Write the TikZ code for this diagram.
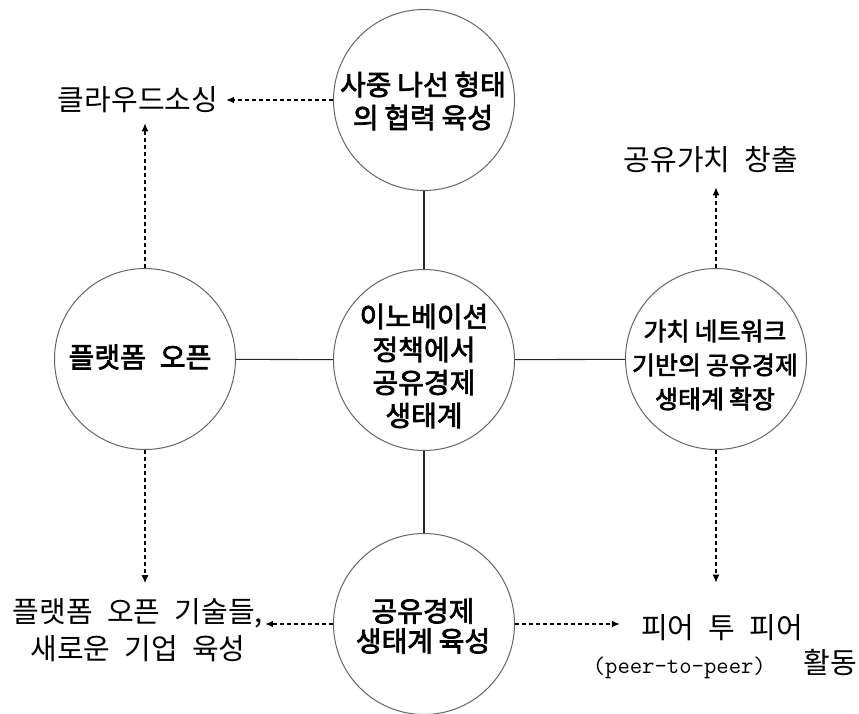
\documentclass[tikz,border=0pt]{standalone}
\usepackage{fontspec}
\newfontfamily\krout[WordSpace=2.2]{Noto Sans CJK KR}
\newfontfamily\krin[WordSpace=0.9,FakeBold=2.5]{Noto Sans CJK KR}
\usetikzlibrary{arrows.meta}
\begin{document}
\begin{tikzpicture}[x=1pt,y=-1pt,
  bub/.style={circle,draw=black!60,line width=1pt,minimum size=181pt,inner sep=0pt},
  btxt/.style={align=center,inner sep=0pt,font=\krin\fontsize{28}{33}\selectfont},
  otxt/.style={align=center,inner sep=0pt,font=\krout\fontsize{29}{37}\selectfont},
  link/.style={line width=1.1pt,black!85},
  darr/.style={line width=1.2pt,black,dash pattern=on 4pt off 3pt,-{Latex[length=8pt,width=7pt]}}]
\useasboundingbox[fill=white] (0,0) rectangle (859,714);
% circles
\node[bub] (T) at (424,100) {};
\node[bub] (C) at (424,360) {};
\node[bub] (L) at (145,359) {};
\node[bub] (R) at (716,359) {};
\node[bub] (B) at (424,624) {};
% circle texts
\node[btxt] (Tt) at (423,101) {사중 나선 형태\\의 협력 육성};
\node[btxt] (Ct) at (424,366) {이노베이션\\정책에서\\공유경제\\생태계};
\node[btxt] (Lt) at (140,357) {플랫폼\hspace{0.5em}오픈};
\node[btxt,font=\krin\fontsize{25}{34}\selectfont] (Rt) at (715,365) {가치 네트워크\\기반의 공유경제\\생태계 확장};
\node[btxt,font=\krin\fontsize{28}{30}\selectfont] (Bt) at (423,626) {공유경제\\생태계 육성};
% outer texts
\node[otxt] (crowd) at (138,100) {클라우드소싱};
\node[otxt] (share) at (711,160) {공유가치 창출};
\node[otxt] (plat) at (138,630) {플랫폼 오픈 기술들,\\새로운 기업 육성};
\node[otxt] (peer1) at (722,628) {피어 투 피어};
\node[otxt] (peer2) at (725,664) {{\ttfamily\fontsize{24}{24}\selectfont (peer-to-peer)}\hspace{38pt}활동};
% solid links
\draw[link] (T) -- (C);
\draw[link] (C) -- (B);
\draw[link] (L) -- (C);
\draw[link] (C) -- (R);
% dashed arrows
\draw[darr,shorten >=8pt] (T) -- (crowd);
\draw[darr,shorten >=10pt] (L) -- (L |- crowd.south);
\draw[darr,shorten >=14pt] (R) -- (R |- share.south);
\draw[darr,shorten >=15pt] (L) -- (L |- plat.north);
\draw[darr,shorten >=2pt] (B) -- (B -| plat.east);
\draw[darr,shorten >=32pt] (R) -- (R |- peer1.north);
\draw[darr,shorten >=21pt] (B) -- (B -| peer1.west);
\end{tikzpicture}
\end{document}
